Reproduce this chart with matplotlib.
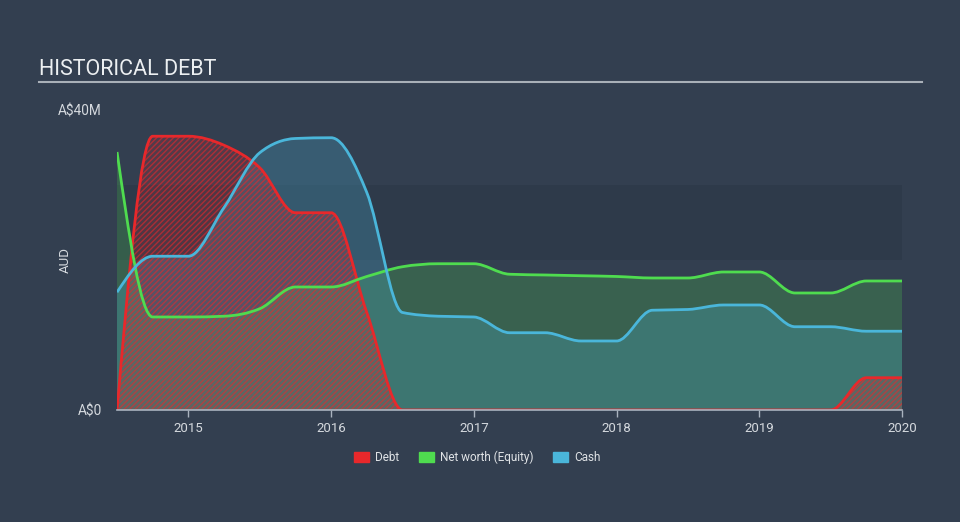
import numpy as np
import matplotlib
matplotlib.use('Agg')
import matplotlib.pyplot as plt
from matplotlib.path import Path
from matplotlib.patches import PathPatch, Rectangle

plt.rcParams['font.family'] = ['Roboto', 'DejaVu Sans']
plt.rcParams['hatch.linewidth'] = 1.0

# quarterly points, decimal years
dates = [2014.5, 2014.75, 2015.0, 2015.25, 2015.5, 2015.75, 2016.0, 2016.25,
         2016.5, 2016.75, 2017.0, 2017.25, 2017.5, 2017.75, 2018.0, 2018.25,
         2018.5, 2018.75, 2019.0, 2019.25, 2019.5, 2019.75, 2020.0]
# values in A$ millions
debt = [0, 36.5, 36.5, 35.3, 32.3, 26.3, 26.3, 13.0,
        0, 0, 0, 0, 0, 0, 0, 0,
        0, 0, 0, 0, 0, 4.3, 4.3]
equity = [34.4, 12.4, 12.4, 12.5, 13.5, 16.4, 16.4, 17.8,
          19.1, 19.5, 19.5, 18.1, 18.0, 17.9, 17.8, 17.6,
          17.6, 18.4, 18.4, 15.6, 15.6, 17.2, 17.2]
cash = [15.7, 20.5, 20.5, 27.0, 34.3, 36.2, 36.3, 29.0,
        13.0, 12.5, 12.4, 10.3, 10.3, 9.2, 9.2, 13.3,
        13.4, 14.0, 14.0, 11.1, 11.1, 10.5, 10.5]

BG = '#333f50'
RED = '#e8282b'
GREEN = '#4fdc4f'
BLUE = '#4ab6da'


def monotone_path(x, y, close=False):
    # smooth monotone curve (same idea as d3 curveMonotoneX) as bezier path
    x = np.asarray(x, float)
    y = np.asarray(y, float)
    n = len(x)
    h = np.diff(x)
    s = np.diff(y) / h
    m = np.zeros(n)
    for i in range(1, n - 1):
        p = (s[i - 1] * h[i] + s[i] * h[i - 1]) / (h[i - 1] + h[i])
        m[i] = (np.sign(s[i - 1]) + np.sign(s[i])) * min(abs(s[i - 1]), abs(s[i]), 0.5 * abs(p))
    m[0] = (3 * s[0] - m[1]) / 2
    m[-1] = (3 * s[-1] - m[-2]) / 2
    verts = [(x[0], y[0])]
    codes = [Path.MOVETO]
    for i in range(n - 1):
        dx = h[i] / 3
        verts += [(x[i] + dx, y[i] + dx * m[i]),
                  (x[i + 1] - dx, y[i + 1] - dx * m[i + 1]),
                  (x[i + 1], y[i + 1])]
        codes += [Path.CURVE4] * 3
    if close:
        verts += [(x[-1], 0), (x[0], 0), (x[0], y[0])]
        codes += [Path.LINETO, Path.LINETO, Path.CLOSEPOLY]
    return Path(verts, codes)


fig = plt.figure(figsize=(9.6, 5.22), dpi=100, facecolor=BG)
ax = fig.add_axes([0.1219, 0.2146, 0.8177, 0.5747])
ax.set_facecolor(BG)
ax.set_xlim(2014.5, 2020.0)
ax.set_ylim(0, 40)

# darker band behind the data
ax.add_patch(Rectangle((2014.5, 20), 5.5, 10, facecolor='#2e3a4a', edgecolor='none', zorder=0))

ax.add_patch(PathPatch(monotone_path(dates, equity, True), facecolor=GREEN, alpha=0.22, lw=0, zorder=1))
ax.add_patch(PathPatch(monotone_path(dates, cash, True), facecolor=BLUE, alpha=0.25, lw=0, zorder=2))
ax.add_patch(PathPatch(monotone_path(dates, debt, True), facecolor=RED, alpha=0.18, lw=0, zorder=3))
ax.add_patch(PathPatch(monotone_path(dates, debt, True), facecolor='none', edgecolor=RED, alpha=0.6,
                       hatch='//////', lw=0, zorder=3))

ax.add_patch(PathPatch(monotone_path(dates, debt), facecolor='none', edgecolor=RED, lw=2, zorder=4))
ax.add_patch(PathPatch(monotone_path(dates, equity), facecolor='none', edgecolor=GREEN, lw=2, zorder=5))
ax.add_patch(PathPatch(monotone_path(dates, cash), facecolor='none', edgecolor=BLUE, lw=2, zorder=6))

for side in ['top', 'right', 'left']:
    ax.spines[side].set_visible(False)
ax.spines['bottom'].set_color('#a9b3bf')
ax.spines['bottom'].set_linewidth(1.2)
ax.spines['bottom'].set_zorder(7)

ax.set_xticks([2015, 2016, 2017, 2018, 2019, 2020])
ax.set_xticklabels(['2015', '2016', '2017', '2018', '2019', '2020'])
ax.set_yticks([0, 40])
ax.set_yticklabels(['A$0', 'A$40M'])
ax.tick_params(axis='x', colors='#a9b3bf', labelcolor='#d5d9de', labelsize=9.5, length=5, width=1)
ax.tick_params(axis='y', length=0, labelcolor='#d5d9de', labelsize=9.8, pad=11)
ax.set_ylabel('AUD', color='#d5d9de', fontsize=9.5)
ax.yaxis.set_label_coords(-0.057, 0.5)

fig.text(0.0406, 0.866, 'HISTORICAL DEBT', color='#eceff1', fontsize=15.5, va='center', ha='left')
fig.add_artist(plt.Line2D([0.0406, 0.9604], [0.843, 0.843], color='#a9b0b8', lw=1.5))

handles = [Rectangle((0, 0), 1, 1, color=RED),
           Rectangle((0, 0), 1, 1, color=GREEN),
           Rectangle((0, 0), 1, 1, color=BLUE)]
fig.legend(handles, ['Debt', 'Net worth (Equity)', 'Cash'], loc='center', bbox_to_anchor=(0.497, 0.124),
           ncol=3, frameon=False, fontsize=8.5, labelcolor='#e0e3e6', handlelength=1.3, handleheight=0.9,
           columnspacing=1.7, handletextpad=0.45)

fig.savefig('out.png', dpi=100, facecolor=BG)
